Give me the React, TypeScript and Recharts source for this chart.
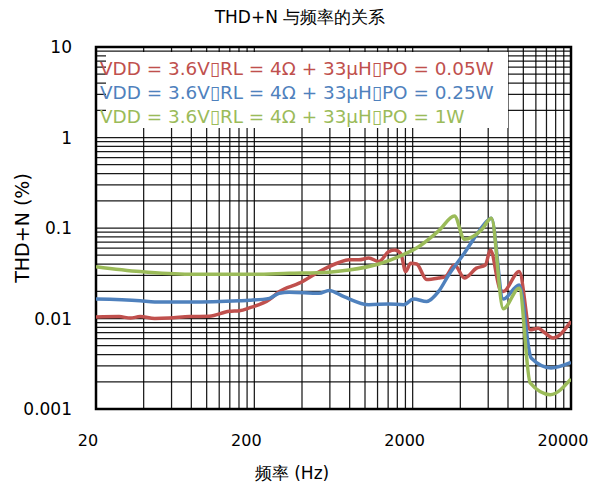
import React from 'react';
import { LineChart, Line, XAxis, YAxis, ReferenceLine, ReferenceArea } from 'recharts';

const W = 597;
const H = 491;
const FONT = '"DejaVu Sans", sans-serif';

const chartTitle = 'THD+N 与频率的关系';
const xAxisTitle = '频率 (Hz)';
const yAxisTitle = 'THD+N (%)';

const xTicks = [20, 200, 2000, 20000];
const xTickLabels = ['20', '200', '2000', '20000'];
const yTicks = [0.001, 0.01, 0.1, 1, 10];
const yTickLabels = ['0.001', '0.01', '0.1', '1', '10'];

const seriesNames = [
  'VDD = 3.6V\u25AFRL = 4Ω + 33μH\u25AFPO = 0.05W',
  'VDD = 3.6V\u25AFRL = 4Ω + 33μH\u25AFPO = 0.25W',
  'VDD = 3.6V\u25AFRL = 4Ω + 33μH\u25AFPO = 1W',
];
const seriesColors = ['#C0504D', '#4F81BD', '#9BBB59'];

const redFreq = [20, 28, 33, 38, 47, 58, 78, 104, 139, 161, 186, 249, 287, 384, 513, 685, 791, 914, 1057, 1222, 1413, 1542, 1683, 1807, 1942, 2120, 2450, 2917, 3228, 3674, 4247, 5056, 5756, 6193, 7152, 7468, 9418, 11042, 12398, 13337, 15415, 20000];
const redThd = [0.0104, 0.0105, 0.0101, 0.0105, 0.0100, 0.0101, 0.0105, 0.0106, 0.0120, 0.0122, 0.0131, 0.0162, 0.0198, 0.0246, 0.0329, 0.0416, 0.0445, 0.0445, 0.0465, 0.0426, 0.0549, 0.057, 0.052, 0.033, 0.0409, 0.040, 0.027, 0.028, 0.029, 0.039, 0.028, 0.036, 0.039, 0.057, 0.0207, 0.0199, 0.033, 0.0075, 0.0078, 0.0072, 0.0061, 0.0093];

const blueFreq = [20, 38, 47, 78, 161, 186, 249, 287, 332, 513, 593, 736, 1057, 1413, 1755, 2029, 2450, 2917, 3367, 4247, 5056, 6013, 6282, 7468, 9418, 11204, 14970, 20000];
const blueThd = [0.0164, 0.0157, 0.0152, 0.0152, 0.0157, 0.0159, 0.0167, 0.019, 0.0195, 0.019, 0.0204, 0.0174, 0.0142, 0.0145, 0.0142, 0.0164, 0.0154, 0.0199, 0.030, 0.053, 0.084, 0.123, 0.128, 0.0164, 0.0235, 0.00366, 0.00284, 0.00327];

const greenFreq = [20, 38, 78, 186, 332, 593, 791, 1222, 1634, 2181, 2917, 3674, 4247, 5433, 6282, 7468, 9418, 11042, 14763, 20000];
const greenThd = [0.0374, 0.033, 0.0308, 0.0308, 0.0316, 0.0325, 0.0343, 0.040, 0.0484, 0.0621, 0.093, 0.1356, 0.075, 0.095, 0.128, 0.0128, 0.0216, 0.00194, 0.00144, 0.00215];

const toPoints = (f: number[], v: number[]) => f.map((x, i) => ({ f: x, v: v[i] }));
const redData = toPoints(redFreq, redThd);
const blueData = toPoints(blueFreq, blueThd);
const greenData = toPoints(greenFreq, greenThd);

const multipliers = [1, 2, 3, 4, 5, 6, 7, 8, 9];
const xDecades = [20, 200, 2000];
const yDecades = [0.001, 0.01, 0.1, 1];
const xGrid = [...xDecades.flatMap((d) => multipliers.map((m) => d * m)), 20000];
const yGrid = [...yDecades.flatMap((d) => multipliers.map((m) => +(d * m).toPrecision(3))), 10];

const XTick = (props: any) => {
  const { x, payload } = props;
  const i = xTicks.indexOf(payload.value);
  return (
    <text x={x - 8} y={446} textAnchor="middle" fontSize={16} fontFamily={FONT} fill="#000">
      {i >= 0 ? xTickLabels[i] : payload.value}
    </text>
  );
};

const YTick = (props: any) => {
  const { y, payload } = props;
  const i = yTicks.indexOf(payload.value);
  return (
    <text x={72} y={y + 6} textAnchor="end" fontSize={17} fontFamily={FONT} fill="#000">
      {i >= 0 ? yTickLabels[i] : payload.value}
    </text>
  );
};

export default function App() {
  return (
    <div style={{ position: 'absolute', left: 0, top: 0, width: W, height: H, background: '#fff' }}>
      <LineChart width={W} height={H} margin={{ top: 47, right: 26, bottom: 42, left: 16 }}>
        <XAxis
          dataKey="f"
          type="number"
          scale="log"
          domain={[20, 20000]}
          ticks={xTicks}
          allowDataOverflow
          axisLine={false}
          tickLine={false}
          tick={<XTick />}
          height={40}
        />
        <YAxis
          type="number"
          scale="log"
          domain={[0.001, 10]}
          ticks={yTicks}
          allowDataOverflow
          axisLine={false}
          tickLine={false}
          tick={<YTick />}
          width={80}
        />
        {xGrid.map((g) => (
          <ReferenceLine key={'x' + g} x={g} stroke="#000" strokeWidth={1.25} strokeOpacity={0.9} />
        ))}
        {yGrid.map((g) => (
          <ReferenceLine key={'y' + g} y={g} stroke="#000" strokeWidth={1.25} strokeOpacity={0.9} />
        ))}
        <ReferenceArea x1={20} x2={20000} y1={0.001} y2={10} fill="none" stroke="#000" strokeWidth={2.5} strokeOpacity={1} />
        <Line data={redData} dataKey="v" type="monotone" stroke={seriesColors[0]} strokeWidth={3.5} dot={false} isAnimationActive={false} />
        <Line data={blueData} dataKey="v" type="monotone" stroke={seriesColors[1]} strokeWidth={3.5} dot={false} isAnimationActive={false} />
        <Line data={greenData} dataKey="v" type="monotone" stroke={seriesColors[2]} strokeWidth={3.5} dot={false} isAnimationActive={false} />
      </LineChart>
      <svg width={W} height={H} style={{ position: 'absolute', left: 0, top: 0, pointerEvents: 'none' }}>
        <rect x={106} y={52} width={402} height={76} fill="#fff" />
        {seriesNames.map((n, i) => (
          <text key={n} x={100} y={75 + i * 24.2} fontSize={18.4} fontFamily={FONT} fill={seriesColors[i]}>
            {n}
          </text>
        ))}
        <text x={300} y={22.7} textAnchor="middle" fontSize={17} fontFamily={FONT} fill="#000">
          {chartTitle}
        </text>
        <text x={292} y={479} textAnchor="middle" fontSize={17} fontFamily={FONT} fill="#000">
          {xAxisTitle}
        </text>
        <text x={28.5} y={228} textAnchor="middle" fontSize={19} fontFamily={FONT} fill="#000" transform="rotate(-90 28.5 228)">
          {yAxisTitle}
        </text>
      </svg>
    </div>
  );
}
